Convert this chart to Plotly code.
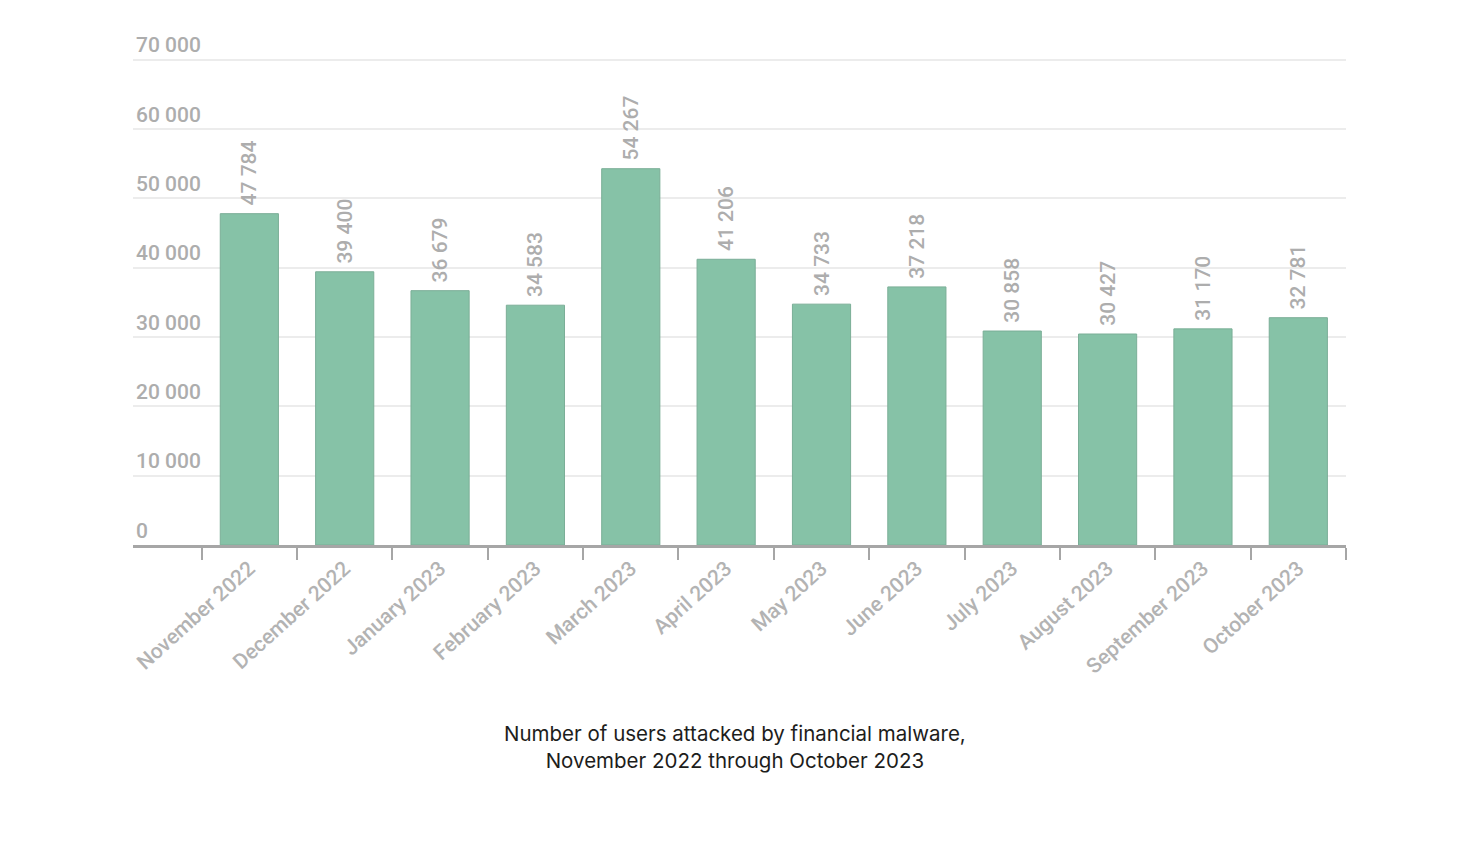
import plotly.graph_objects as go

months = ["November 2022", "December 2022", "January 2023", "February 2023", "March 2023",
          "April 2023", "May 2023", "June 2023", "July 2023", "August 2023",
          "September 2023", "October 2023"]
users = [47784, 39400, 36679, 34583, 54267, 41206, 34733, 37218, 30858, 30427, 31170, 32781]
ytick_vals = [0, 10000, 20000, 30000, 40000, 50000, 60000, 70000]
ytick_text = ["0", "10 000", "20 000", "30 000", "40 000", "50 000", "60 000", "70 000"]

def fmt(v):
    return "\u00a0" + f"{v:,}".replace(",", " ")

fig = go.Figure(go.Bar(
    x=months, y=users, width=0.61,
    marker=dict(color="#86c2a7", line=dict(color="#7bae97", width=1)),
    text=[fmt(v) for v in users], textposition="outside", textangle=-90,
    constraintext="none", cliponaxis=False,
    textfont=dict(family="Roboto", size=21, color="#adadad", weight=500),
    hoverinfo="skip",
))

fig.update_layout(
    width=1482, height=852,
    margin=dict(l=133, r=136, t=18, b=307),
    paper_bgcolor="white", plot_bgcolor="white",
    showlegend=False,
    xaxis=dict(
        range=[-1.22, 11.5], tickson="boundaries", ticks="outside", ticklen=12,
        tickwidth=2, tickcolor="#a6a6a6", showline=True, linecolor="#a6a6a6", linewidth=3,
        tickangle=-42, tickfont=dict(family="Roboto", size=21, color="#b3b3b3", weight=500),
        showgrid=False,
    ),
    yaxis=dict(
        range=[0, 76000], tickvals=ytick_vals, ticktext=ytick_text,
        ticklabelposition="inside top", showgrid=True, gridcolor="#ececec", gridwidth=2,
        tickfont=dict(family="Roboto", size=21, color="#adadad", weight=500),
        zeroline=False, showline=False,
    ),
    annotations=[dict(
        x=0.4959, y=-0.330, xref="paper", yref="paper", xanchor="center", yanchor="top",
        text="Number of users attacked by financial malware,<br>November 2022 through October 2023",
        showarrow=False, align="center",
        font=dict(family="Inter", size=20.5, color="#1d1d1b"),
    )],
)

fig.write_html("out.html")
